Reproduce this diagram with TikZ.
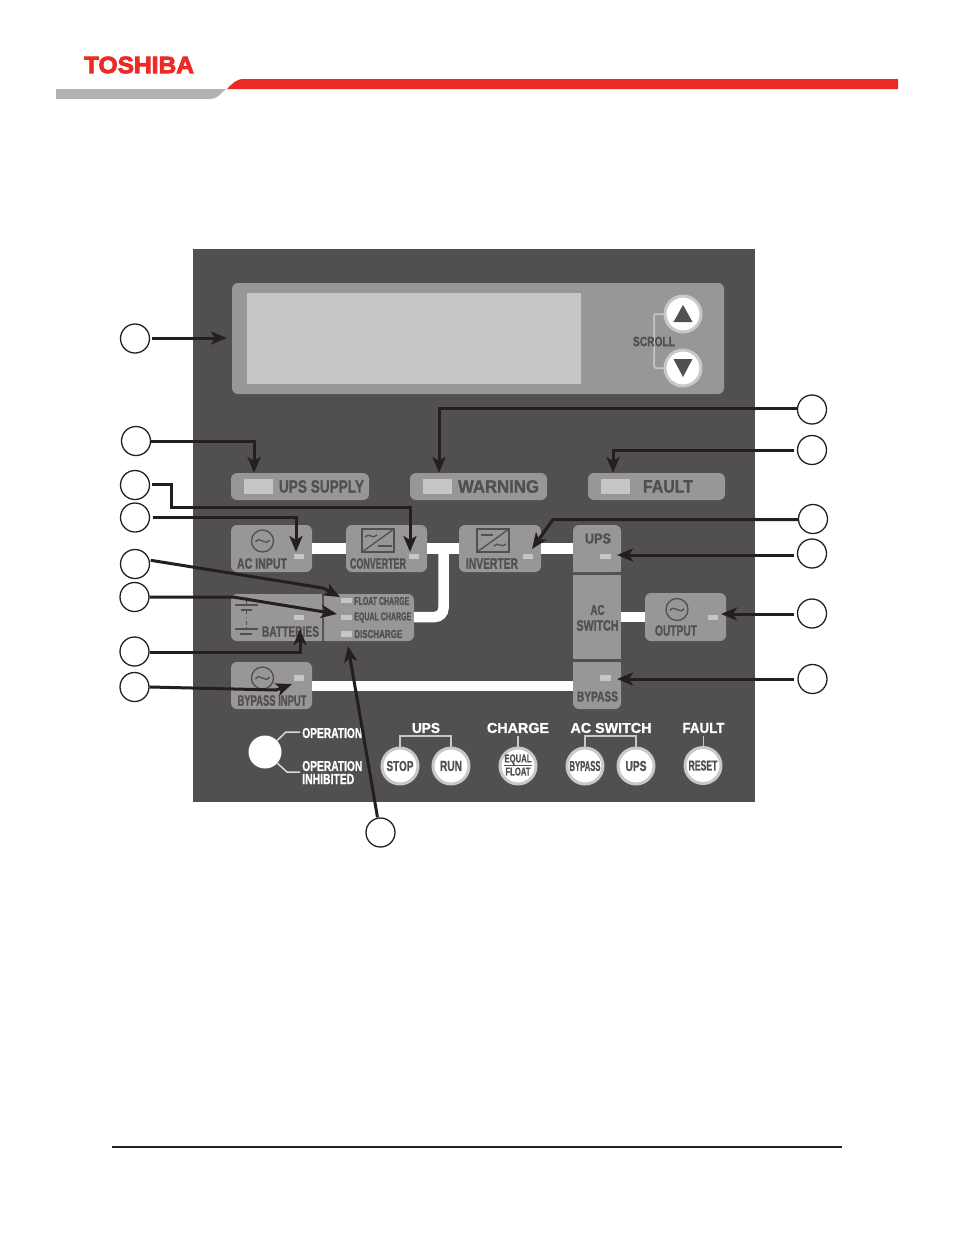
\documentclass[tikz,border=0pt]{standalone}
\usepackage{fontspec}
\usepackage{graphicx}
\setmainfont{Liberation Sans}[BoldFeatures={FakeBold=1.2}]
\newfontfamily\brandfont{Liberation Sans}[BoldFeatures={FakeBold=3.5}]
\usetikzlibrary{arrows.meta}
\newdimen\pxu \pxu=.75pt
\newcommand\tw[3]{\resizebox{#1\pxu}{#2\pxu}{\bfseries #3}}
\definecolor{panel}{HTML}{514F50}
\definecolor{boxc}{HTML}{989697}
\definecolor{ledc}{HTML}{C6C6C6}
\definecolor{rim}{HTML}{C8C8C8}
\definecolor{ink}{HTML}{231F20}
\definecolor{tosh}{HTML}{EE2A24}
\definecolor{greybar}{HTML}{B2B2B2}
\tikzset{
  box/.style={fill=boxc,rounded corners=6\pxu,inner sep=0},
  led/.style={fill=ledc,inner sep=0},
  lab/.style={inner sep=0,text=panel},
  wlab/.style={inner sep=0,text=white},
  wire/.style={draw=white,line width=10.5\pxu},
  hair/.style={draw=rim,line width=1.5\pxu},
  sym/.style={draw=panel,line width=1.3\pxu},
  btn/.style={circle,fill=white,draw=rim,line width=3\pxu,minimum size=36\pxu,inner sep=0,text=panel},
  callout/.style={circle,draw=ink,fill=white,line width=1.3\pxu,minimum size=29\pxu,inner sep=0},
  pointer/.style={draw=ink,line width=3\pxu,-{Stealth[length=12pt,width=9.75pt,inset=3pt]}}
}
\newcommand\sinesym[3]{%
  \node[circle,sym,minimum size=22\pxu,inner sep=0] (#1) at (#2,#3) {};
  \draw[sym,shift={(#2,#3)}] (-7,1) .. controls (-3,-6) and (3,6) .. (7,-1);
}
\begin{document}
\begin{tikzpicture}[x=.75pt,y=-.75pt]
\useasboundingbox (0,0) rectangle (954,1235);
\fill[white] (0,0) rectangle (954,1235);
% header
\node[inner sep=0,text=tosh] (brand) at (139,65) {\resizebox{110\pxu}{16.5\pxu}{\brandfont\bfseries TOSHIBA}};
\fill[tosh] (227,89) .. controls (233,83) and (236,79) .. (244,79) -- (898,79) -- (898,89) -- cycle;
\fill[greybar] (56,89) -- (226,89) .. controls (219,95) and (217,99) .. (210,99) -- (56,99) -- cycle;
\draw[ink,line width=2.8\pxu] (112,1147) -- (842,1147);
% panel
\fill[panel] (193,249) rectangle (755,802);
\node[box,minimum width=492\pxu,minimum height=111\pxu] (lcd) at (478,338.5) {};
\fill[ledc] (247,293) rectangle (581,384);
% scroll
\draw[hair,rounded corners=2\pxu] (665,314) -- (654,314) -- (654,368) -- (665,368);
\node[lab] (scroll) at (654,341.5) {\tw{42}{9.5}{SCROLL}};
\node[btn] (up) at (683,314) {};
\node[btn] (down) at (683,368) {};
\fill[panel] (683,305) -- (692.5,322) -- (673.5,322) -- cycle;
\fill[panel] (673.5,359) -- (692.5,359) -- (683,377) -- cycle;
% status pills
\node[box,minimum width=138\pxu,minimum height=27\pxu] (supply) at (300,486.5) {};
\node[box,minimum width=137\pxu,minimum height=27\pxu] (warning) at (478.5,486.5) {};
\node[box,minimum width=137\pxu,minimum height=27\pxu] (fault) at (656.5,486.5) {};
\node[led,minimum width=29\pxu,minimum height=15\pxu] (ledsupply) at (258.5,486.5) {};
\node[led,minimum width=29\pxu,minimum height=15\pxu] (ledwarning) at (437.5,486.5) {};
\node[led,minimum width=29\pxu,minimum height=15\pxu] (ledfault) at (615.5,486.5) {};
\node[lab] (tsupply) at (321.5,486.5) {\tw{85}{12.5}{UPS SUPPLY}};
\node[lab] (twarning) at (498.5,486.5) {\tw{81}{12.5}{WARNING}};
\node[lab] (tfault) at (668,486.5) {\tw{50}{12.5}{FAULT}};
% flow boxes
\node[box,minimum width=81\pxu,minimum height=47\pxu] (acin) at (271.5,548.5) {};
\node[box,minimum width=81\pxu,minimum height=47\pxu] (conv) at (386.5,548.5) {};
\node[box,minimum width=82\pxu,minimum height=47\pxu] (inv) at (500,548.5) {};
\node[box,minimum width=81\pxu,minimum height=47\pxu] (bypin) at (271.5,685.5) {};
\node[box,minimum width=81\pxu,minimum height=48\pxu] (out) at (685.5,617) {};
\fill[boxc,rounded corners=6\pxu] (322,641) -- (231,641) -- (231,594) -- (322,594) [sharp corners] -- cycle;
\fill[boxc,rounded corners=6\pxu] (324,594) -- (414,594) -- (414,641) -- (324,641) [sharp corners] -- cycle;
\fill[boxc] (324,594) rectangle (332,641);
\fill[boxc] (312,594) rectangle (322,641);
\fill[boxc,rounded corners=6\pxu] (573,572) -- (573,525) -- (621,525) -- (621,572) [sharp corners] -- cycle;
\fill[boxc] (573,560) rectangle (621,572);
\fill[boxc] (573,575) rectangle (621,659);
\fill[boxc,rounded corners=6\pxu] (573,662) -- (621,662) -- (621,709) -- (573,709) -- cycle;
\fill[boxc] (573,662) rectangle (621,672);
\coordinate (batbox) at (414,617);
\coordinate (upsin) at (573,548.5);
\coordinate (bypassin) at (573,686);
\coordinate (acout) at (621,617);
\coordinate (mergeIn) at (443.5,548.5);
% white wires
\draw[wire] (acin.east) -- (conv.west);
\draw[wire] (conv.east) -- (inv.west);
\draw[wire] (inv.east) -- (upsin);
\draw[wire,rounded corners=9\pxu] (batbox) -- (443.5,617) -- (mergeIn);
\draw[wire] (bypin.east |- bypassin) -- (bypassin);
\draw[wire] (acout) -- (out.west);
% LEDs
\foreach \n/\x/\y in {lacin/299/556.5,lconv/414/556.5,linv/528/556.5,lups/605.5/556.5,lbat/299/617.5,lout/713/617.5,lbyp/299/678,lbypsw/605.5/678}
  \node[led,minimum width=10.5\pxu,minimum height=5.5\pxu] (\n) at (\x,\y) {};
\foreach \n/\y in {lfloat/600.5,lequal/617.5,ldis/634}
  \node[led,minimum width=11\pxu,minimum height=5.5\pxu] (\n) at (346.5,\y) {};
% flow labels
\node[lab] (t1) at (262,563.5) {\tw{50}{10.5}{AC INPUT}};
\node[lab] (t2) at (378,563.5) {\tw{56}{10.5}{CONVERTER}};
\node[lab] (t3) at (492,563.5) {\tw{52}{10.5}{INVERTER}};
\node[lab] (t4) at (290.5,631.5) {\tw{57}{10.5}{BATTERIES}};
\node[lab] (t5) at (272,700.5) {\tw{69}{10.5}{BYPASS INPUT}};
\node[lab,anchor=west] (t6) at (354,601) {\tw{55}{8}{FLOAT CHARGE}};
\node[lab,anchor=west] (t7) at (354,617.5) {\tw{57}{8}{EQUAL CHARGE}};
\node[lab,anchor=west] (t8) at (354,634) {\tw{48}{8}{DISCHARGE}};
\node[lab] (t9) at (598,538.5) {\tw{26}{10}{UPS}};
\node[lab] (t10) at (597.5,610) {\tw{14}{10}{AC}};
\node[lab] (t11) at (597.5,625.5) {\tw{42}{10.5}{SWITCH}};
\node[lab] (t12) at (597.5,696.5) {\tw{41}{10}{BYPASS}};
\node[lab] (t13) at (676,630.5) {\tw{42}{10.5}{OUTPUT}};
% symbols
\sinesym{s1}{262.5}{541}
\sinesym{s2}{262.5}{678}
\sinesym{s3}{677}{609.5}
\draw[sym] (362,529) rectangle (394,552);
\draw[sym] (362,552) -- (394,529);
\draw[sym,shift={(371,536)}] (-6,1) .. controls (-2,-4) and (2,4) .. (6,-1);
\draw[sym] (378,546) -- (392,546);
\draw[sym] (477,529) rectangle (509,552);
\draw[sym] (477,552) -- (509,529);
\draw[sym] (481,535) -- (493,535);
\draw[sym,shift={(500,545)}] (-6,1) .. controls (-2,-4) and (2,4) .. (6,-1);
% battery symbol
\draw[sym] (235,605) -- (258,605);
\draw[sym] (241,610) -- (252,610);
\draw[sym] (246.5,597) -- (246.5,605);
\draw[sym,dash dot] (246.5,610) -- (246.5,629);
\draw[sym] (235,629) -- (258,629);
\draw[sym,line width=1.8\pxu] (240,634) -- (252,634);
% bottom row
\node[circle,fill=white,minimum size=33\pxu,inner sep=0] (lamp) at (265,752) {};
\coordinate (opA) at (300,732);
\coordinate (opB) at (300,772);
\draw[hair,draw=white!85!black] (lamp) -- (286,732) -- (opA);
\draw[hair,draw=white!85!black] (lamp) -- (287,772) -- (opB);
\node[wlab,anchor=west] (op1) at (302,733) {\tw{60}{10}{OPERATION}};
\node[wlab,anchor=west] (op2) at (302,766) {\tw{60}{10}{OPERATION}};
\node[wlab,anchor=west] (op3) at (302,779) {\tw{52}{10}{INHIBITED}};
\node[wlab] (h1) at (426,728) {\tw{28}{10}{UPS}};
\node[wlab] (h2) at (518,728) {\tw{62}{10}{CHARGE}};
\node[wlab] (h3) at (611,728) {\tw{81}{10}{AC SWITCH}};
\node[wlab] (h4) at (703.5,728) {\tw{42}{10}{FAULT}};
\draw[hair] (400,750) -- (400,736) -- (451,736) -- (451,750);
\draw[hair] (518,736) -- (518,750);
\draw[hair] (585,750) -- (585,736) -- (636,736) -- (636,750);
\draw[hair] (703.5,736) -- (703.5,750);
\node[btn] (stop) at (400,766) {\tw{27}{10}{STOP}};
\node[btn] (run) at (451,766) {\tw{22}{10}{RUN}};
\node[btn] (eqfl) at (518,766) {};
\node[lab] (eq) at (518,759.5) {\tw{27}{8}{EQUAL}};
\node[lab] (fl) at (518,771.5) {\tw{25}{8}{FLOAT}};
\draw[panel,line width=.6\pxu] (504,765.3) -- (532,765.3);
\node[btn] (sbyp) at (585,766) {\tw{31}{10}{BYPASS}};
\node[btn] (sups) at (636,766) {\tw{21}{10}{UPS}};
\node[btn] (reset) at (703,765.5) {\tw{29}{10}{RESET}};
% callouts
\foreach \n/\x/\y in {c1/135/338.5,c2/136/441,c3/135/485,c4/135/517.5,c5/135/564,c6/134.5/597,c7/134.5/651.5,c8/134.5/687,c9/812/409.5,c10/812/450,c11/813/519,c12/812/553.5,c13/812/613.5,c14/812.5/679,c15/380.5/832.5}
  \node[callout] (\n) at (\x,\y) {};
% pointer targets
\coordinate (s1) at (152,338); \coordinate (p1) at (227,338);
\coordinate (b2) at (254,441); \coordinate (p2) at (254,473);
\coordinate (a3) at (171,484.5); \coordinate (b3) at (171,507); \coordinate (d3) at (410,507); \coordinate (p3) at (410,552);
\coordinate (b4) at (296,517.5); \coordinate (p4) at (296,552);
\coordinate (b5) at (323,588); \coordinate (p5) at (340,597);
\coordinate (b6) at (233,597); \coordinate (p6) at (337,614);
\coordinate (b7) at (300,652); \coordinate (p7) at (300,629);
\coordinate (b8) at (276,690); \coordinate (p8) at (292,684);
\coordinate (b9) at (439,408.5); \coordinate (p9) at (439,473);
\coordinate (b10) at (613,450.5); \coordinate (p10) at (613,473);
\coordinate (b11) at (553,519.5); \coordinate (p11) at (532,549);
\coordinate (s12) at (794,555); \coordinate (p12) at (617,555);
\coordinate (s13) at (794,614); \coordinate (p13) at (721,614);
\coordinate (s14) at (794,679); \coordinate (p14) at (617,679);
\coordinate (p15) at (348,646);
% pointers
\draw[pointer] (s1) -- (p1);
\draw[pointer] (c2.east |- b2) -- (b2) -- (p2);
\draw[pointer] (c3.east |- a3) ++(2,0) -- (a3) -- (b3) -- (d3) -- (p3);
\draw[pointer] (c4.east |- b4) ++(3,0) -- (b4) -- (p4);
\draw[pointer] (c5.north east) ++(5,7) -- (b5) -- (p5);
\draw[pointer] (c6.east) -- (b6) -- (p6);
\draw[pointer] (c7.east |- b7) -- (b7) -- (p7);
\draw[pointer] (c8.east) -- (b8) -- (p8);
\draw[pointer] (c9.west |- b9) -- (b9) -- (p9);
\draw[pointer] (c10.west |- b10) ++(-3,0) -- (b10) -- (p10);
\draw[pointer] (c11.west |- b11) -- (b11) -- (p11);
\draw[pointer] (s12) -- (p12);
\draw[pointer] (s13) -- (p13);
\draw[pointer] (s14) -- (p14);
\draw[pointer] (c15.north) ++(-3,0) -- (p15);
\end{tikzpicture}
\end{document}
